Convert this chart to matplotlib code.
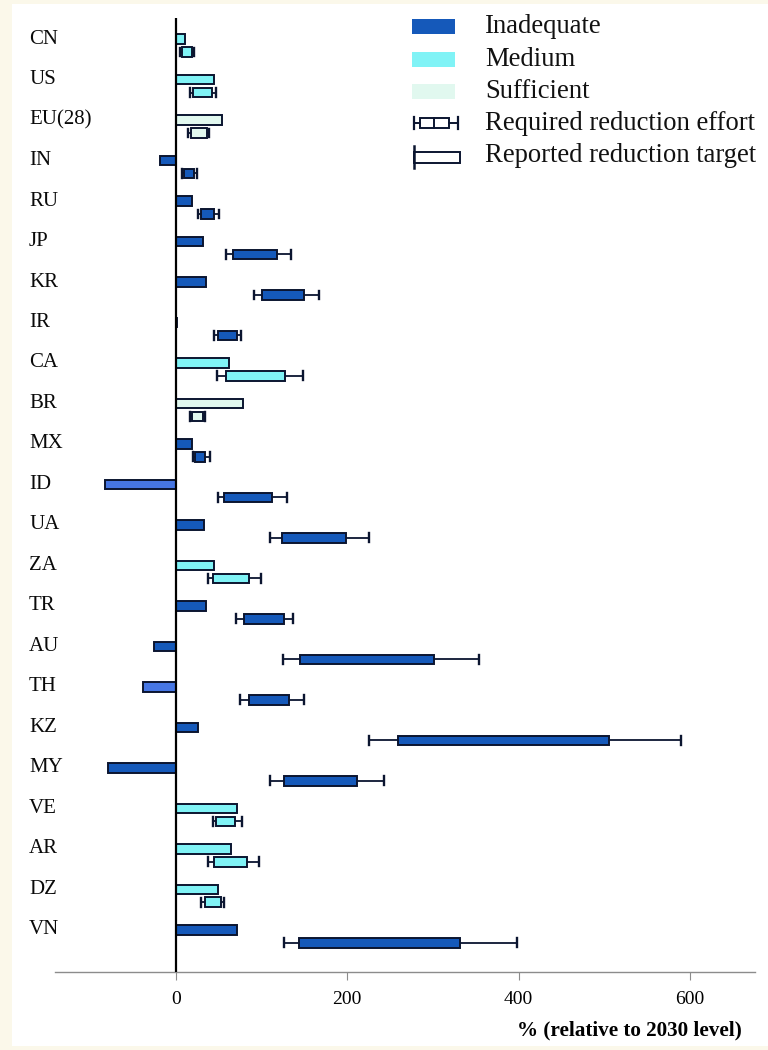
import matplotlib
matplotlib.use('Agg')
import matplotlib.pyplot as plt
from matplotlib.patches import Rectangle
import matplotlib.transforms as mtransforms

countries = ['CN', 'US', 'EU(28)', 'IN', 'RU', 'JP', 'KR', 'IR', 'CA', 'BR', 'MX', 'ID',
             'UA', 'ZA', 'TR', 'AU', 'TH', 'KZ', 'MY', 'VE', 'AR', 'DZ', 'VN']
rating = ['Medium', 'Medium', 'Sufficient', 'Inadequate', 'Inadequate', 'Inadequate',
          'Inadequate', 'Inadequate', 'Medium', 'Sufficient', 'Inadequate', 'Inadequate',
          'Inadequate', 'Medium', 'Inadequate', 'Inadequate', 'Inadequate', 'Inadequate',
          'Inadequate', 'Medium', 'Medium', 'Medium', 'Inadequate']
light_bar_countries = ['ID', 'TH']
reported_target = [11, 44, 54, -19, 19, 32, 35, 1, 62, 78, 19, -83, 33, 45, 35, -26, -38,
                   26, -79, 71, 64, 49, 71]
effort_low = [5, 17, 14, 7.5, 26, 59, 91, 44, 48, 17, 19.5, 49.5, 110, 38, 70, 125, 75,
              226, 110.5, 43, 38, 29.5, 126]
effort_q1 = [7, 20.5, 18, 10, 29, 67, 101, 49, 58, 19, 22, 56.5, 124, 43, 80, 144.5, 85,
             259, 126, 47, 44, 34, 144]
effort_med = [12, 34, 27.5, 16, 38, 93, 121, 61, 88, 24, 28.5, 72.5, 148, 53, 107.5, 190.5,
              106.5, 325, 150, 56.5, 56.5, 44, 186]
effort_q3 = [18.5, 42, 36.5, 21.5, 45, 118, 150, 71, 127, 31.5, 34.5, 112.5, 199, 85, 126.5,
             301, 132.5, 505.5, 211, 69, 83.5, 52.5, 332]
effort_high = [21.5, 46.5, 39, 24.5, 50.5, 135, 167, 76, 149, 34, 40, 130, 225.5, 99.5, 137,
               354, 149.5, 590, 242.5, 77.5, 97.5, 56.5, 398.5]
xticks = [0, 200, 400, 600]
xlabel = '% (relative to 2030 level)'
legend_labels = ['Inadequate', 'Medium', 'Sufficient', 'Required reduction effort',
                 'Reported reduction target']

colors = {'Inadequate': '#1559BA', 'Medium': '#80F3F6', 'Sufficient': '#E1F8EF'}
light_blue = '#4676E4'
edge = '#0B1530'
serif = ['Liberation Serif', 'DejaVu Serif']
plt.rcParams['font.family'] = serif

W, H = 768, 1050
fig = plt.figure(figsize=(W / 100, H / 100), dpi=100)
fig.patch.set_facecolor('#FBF8EA')
fig.patches.append(Rectangle((12 / W, 4 / H), 1 - 12 / W, 1 - 8 / H,
                             transform=fig.transFigure, facecolor='white',
                             edgecolor='none', zorder=-5))

ax = fig.add_axes([55 / W, (H - 972) / H, 700 / W, (972 - 18) / H], zorder=2)
ax.set_facecolor('none')

n = len(countries)
ys = list(range(n))
bar_h = 0.24
box_off = 0.32

bar_cols = [light_blue if c in light_bar_countries else colors[r]
            for c, r in zip(countries, rating)]
ax.barh(ys, reported_target, left=0, height=bar_h, color=bar_cols, edgecolor=edge,
        linewidth=1.4, zorder=3)

stats = []
for i in range(n):
    stats.append({'whislo': effort_low[i], 'q1': effort_q1[i], 'med': effort_med[i],
                  'q3': effort_q3[i], 'whishi': effort_high[i], 'fliers': []})
bp = ax.bxp(stats, positions=[y + box_off for y in ys], widths=bar_h,
            capwidths=0.22, orientation='horizontal', patch_artist=True,
            showfliers=False, manage_ticks=False,
            boxprops=dict(edgecolor=edge, linewidth=1.4),
            medianprops=dict(color=edge, linewidth=1.3),
            whiskerprops=dict(color=edge, linewidth=1.3),
            capprops=dict(color=edge, linewidth=1.7))
for box, r in zip(bp['boxes'], rating):
    box.set_facecolor(colors[r])
    box.set_zorder(3)

ax.axvline(0, color='black', linewidth=1.6, zorder=4)

ax.set_xlim(-141, 676)
ax.set_ylim(23.04, -0.52)
for s in ['top', 'right', 'left']:
    ax.spines[s].set_visible(False)
ax.spines['bottom'].set_color('#8C8C8C')
ax.spines['bottom'].set_linewidth(1.0)
ax.set_yticks([])
ax.set_xticks(xticks)
ax.set_xticklabels([str(t) for t in xticks], fontsize=14)
ax.tick_params(axis='x', colors='#8C8C8C', length=6, width=0.8, pad=8, labelcolor='black')

trans = mtransforms.blended_transform_factory(fig.transFigure, ax.transData)
for i, c in enumerate(countries):
    ax.text(29 / W, i, c, transform=trans, ha='left', va='center', fontsize=15,
            color='#0A0A0A')

fig.text(742 / W, 1 - 1030 / H, xlabel, ha='right', va='center', fontsize=15.2,
         fontweight='bold')

# legend (drawn in pixel coordinates)
lg = fig.add_axes([0, 0, 1, 1], zorder=10)
lg.set_xlim(0, W)
lg.set_ylim(H, 0)
lg.axis('off')
lg.patch.set_alpha(0)
text_y = [26.5, 59, 91, 123, 155]
for k, r in enumerate(['Inadequate', 'Medium', 'Sufficient']):
    lg.add_patch(Rectangle((412, text_y[k] - 7.5), 43, 15, facecolor=colors[r],
                           edgecolor='none'))
# required effort icon
yc = text_y[3]
lg.add_patch(Rectangle((419.5, yc - 4.7), 29, 9.4, facecolor='white', edgecolor=edge,
                       linewidth=1.4))
lg.plot([433.5, 433.5], [yc - 4.7, yc + 4.7], color=edge, lw=1.4)
lg.plot([414, 419.5], [yc, yc], color=edge, lw=1.4)
lg.plot([448.5, 457.5], [yc, yc], color=edge, lw=1.4)
lg.plot([414, 414], [yc - 6, yc + 6], color=edge, lw=1.6)
lg.plot([457.5, 457.5], [yc - 6, yc + 6], color=edge, lw=1.6)
# reported target icon
yc = text_y[4] + 2
lg.add_patch(Rectangle((414, yc - 5.5), 46, 11, facecolor='white', edgecolor=edge,
                       linewidth=1.4))
lg.plot([414, 414], [yc - 11, yc + 11], color=edge, lw=1.8)
for k, lab in enumerate(legend_labels):
    lg.text(485, text_y[k], lab, ha='left', va='center', fontsize=19.2, color='#111111')

fig.savefig('out.png', dpi=100, facecolor=fig.get_facecolor())
